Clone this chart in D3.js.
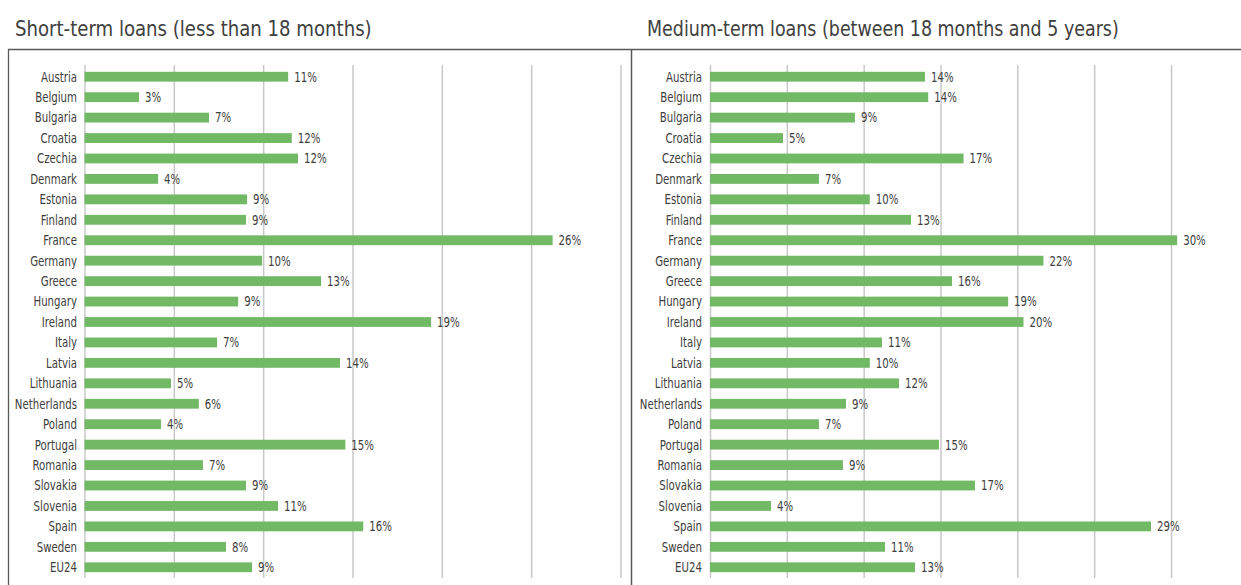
<!DOCTYPE html>
<html>
<head>
<meta charset="utf-8">
<script src="https://cdn.jsdelivr.net/npm/d3@7"></script>
<style>
  html, body { margin: 0; padding: 0; background: #fff; }
  svg { display: block; }
  text { fill: #404040; font-family: "Liberation Sans Narrow", "DejaVu Sans Condensed", "Roboto", sans-serif; }
</style>
</head>
<body>
<svg id="chart" width="1241" height="585"></svg>
<script>
const categories = ["Austria","Belgium","Bulgaria","Croatia","Czechia","Denmark","Estonia","Finland","France","Germany","Greece","Hungary","Ireland","Italy","Latvia","Lithuania","Netherlands","Poland","Portugal","Romania","Slovakia","Slovenia","Spain","Sweden","EU24"];
const shortTerm = [11.4,3.05,6.97,11.6,11.95,4.12,9.1,9.04,26.2,9.94,13.24,8.6,19.4,7.42,14.3,4.84,6.4,4.28,14.6,6.63,9.04,10.83,15.6,7.92,9.38];
const mediumTerm = [13.99,14.2,9.43,4.75,16.5,7.09,10.4,13.08,30.4,21.7,15.75,19.4,20.4,11.19,10.4,12.3,8.85,7.09,14.9,8.65,17.24,3.97,28.7,11.39,13.34];
const titles = ["Short-term loans (less than 18 months)", "Medium-term loans (between 18 months and 5 years)"];
const gridTicks = [0,5,10,15,20,25,30];

const svg = d3.select("#chart");
const W = 1241, H = 585;
const barColor = "#71b964";
const gridColor = "#c8c8c8";
const frameColor = "#595959";
const squeeze = 0.84;

const y = d3.scaleBand().domain(categories).range([66.5, 577.5]).paddingInner(0.52).paddingOuter(0.26);

const panels = [
  { title: titles[0], values: shortTerm, x0: 84.5, x1: 620.5, labelX: 77, titleX: 15, titleW: 357 },
  { title: titles[1], values: mediumTerm, x0: 710, x1: 1171, labelX: 702, titleX: 647, titleW: 472 }
];

// frame
svg.append("line").attr("x1", 8).attr("x2", W).attr("y1", 49.5).attr("y2", 49.5)
  .attr("stroke", frameColor).attr("stroke-width", 1.3);
svg.append("line").attr("x1", 8.5).attr("x2", 8.5).attr("y1", 49).attr("y2", H)
  .attr("stroke", frameColor).attr("stroke-width", 1.3);
svg.append("line").attr("x1", 631.5).attr("x2", 631.5).attr("y1", 49).attr("y2", H)
  .attr("stroke", frameColor).attr("stroke-width", 1.5);

panels.forEach(p => {
  const x = d3.scaleLinear().domain([0, 30]).range([p.x0, p.x1]);
  const g = svg.append("g");

  const t = g.append("text").attr("x", 0).attr("y", 0)
    .attr("font-size", 22).text(p.title);
  const tw = t.node().getComputedTextLength();
  t.attr("transform", `translate(${p.titleX},36) scale(${p.titleW / tw},1)`);

  // gridlines via axis
  const axis = d3.axisBottom(x).tickValues(gridTicks).tickSize(513).tickFormat("");
  const ag = g.append("g").attr("transform", "translate(0,65)").call(axis);
  ag.select(".domain").remove();
  ag.selectAll(".tick line").attr("stroke", gridColor).attr("stroke-width", 1.5);

  const data = categories.map((c, i) => ({ c, v: p.values[i] }));

  g.selectAll("rect.bar").data(data).join("rect").attr("class", "bar")
    .attr("x", x(0)).attr("y", d => y(d.c))
    .attr("width", d => x(d.v) - x(0)).attr("height", y.bandwidth())
    .attr("fill", barColor);

  g.selectAll("text.cat").data(data).join("text").attr("class", "cat")
    .attr("transform", d => `translate(${p.labelX},${y(d.c) + y.bandwidth() / 2}) scale(${squeeze},1)`)
    .attr("dy", "0.36em").attr("text-anchor", "end").attr("font-size", 13.5)
    .text(d => d.c);

  g.selectAll("text.val").data(data).join("text").attr("class", "val")
    .attr("transform", d => `translate(${x(d.v) + 6},${y(d.c) + y.bandwidth() / 2}) scale(${squeeze},1)`)
    .attr("dy", "0.36em").attr("font-size", 13.5)
    .text(d => d3.format(".0f")(d.v) + "%");
});
</script>
</body>
</html>
